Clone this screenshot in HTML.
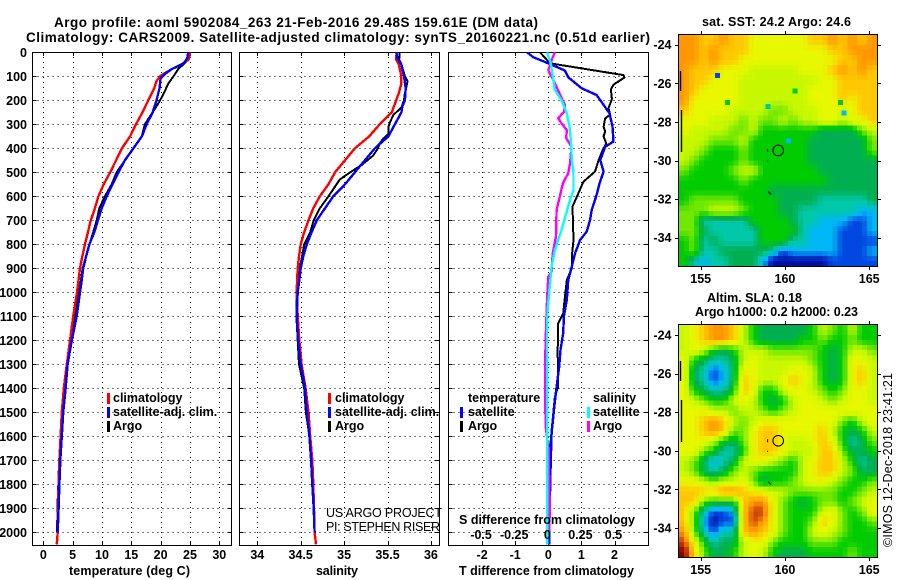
<!DOCTYPE html>
<html lang="en">
<head>
<meta charset="utf-8">
<title>Argo profile</title>
<style>
html,body{margin:0;padding:0;background:#fff;width:900px;height:580px;overflow:hidden}
svg{display:block}
text{font-family:"Liberation Sans",sans-serif;font-size:12.5px;font-weight:bold;fill:#000}
.thin{font-weight:normal}
</style>
</head>
<body>
<svg id="root" xmlns="http://www.w3.org/2000/svg" width="900" height="580" viewBox="0 0 900 580">
<defs>
<clipPath id="clip1"><rect x="32" y="52" width="200" height="493"/></clipPath>
<clipPath id="clip2"><rect x="239" y="52" width="201" height="493"/></clipPath>
<clipPath id="clip3"><rect x="448" y="52" width="201" height="493"/></clipPath>
</defs>
<g id="static-text">
<text x="54" y="27" style="font-size:13.5px" textLength="484">Argo profile: aoml 5902084_263 21-Feb-2016 29.48S 159.61E (DM data)</text>
<text x="26" y="42" style="font-size:13.5px" textLength="624">Climatology: CARS2009. Satellite-adjusted climatology: synTS_20160221.nc (0.51d earlier)</text>
<text x="69" y="575" textLength="121">temperature (deg C)</text>
<text x="316" y="575" textLength="42">salinity</text>
<text x="459" y="575" textLength="175">T difference from climatology</text>
<text x="459" y="524" textLength="176">S difference from climatology</text>
<text x="702" y="26" textLength="149">sat. SST: 24.2 Argo: 24.6</text>
<text x="707" y="302" textLength="95">Altim. SLA: 0.18</text>
<text x="695" y="316" textLength="163">Argo h1000: 0.2 h2000: 0.23</text>
<text class="thin" x="326" y="517" textLength="116">US ARGO PROJECT</text>
<text class="thin" x="326" y="531" textLength="114">PI: STEPHEN RISER</text>
<text class="thin" transform="translate(892 547) rotate(-90)" textLength="174">©IMOS 12-Dec-2018 23:41:21</text>
</g>
</svg>
<script>
// ---------- shared ticks ----------
const depthTicks = [0,100,200,300,400,500,600,700,800,900,1000,1100,1200,1300,1400,1500,1600,1700,1800,1900,2000];
const tempTicks = [0,5,10,15,20,25,30];
const salTicks = [34,34.5,35,35.5,36];
const tDiffTicks = [-2,-1,0,1,2];
const sDiffTicks = [-0.5,-0.25,0,0.25,0.5];
const lonTicks = [155,160,165];
const latTicks = [-24,-26,-28,-30,-32,-34];

// ---------- temperature panel ----------
const tempClimDepth = [0,30,50,70,90,100,120,150,200,250,300,350,400,450,500,550,600,650,700,750,800,850,900,950,1000,1100,1200,1300,1400,1500,1600,1700,1800,1900,2000,2050];
const tempClimValues = [25,24.8,23.6,21.9,20.5,19.9,19.3,18.9,17.9,16.9,15.8,14.8,13.4,12.4,11.4,10.3,9.4,8.8,8.1,7.6,7.1,6.65,6.25,6,5.75,5.1,4.55,4,3.5,3.15,2.95,2.75,2.6,2.5,2.45,2.3];
const tempSatDepth = [0,20,40,50,70,90,110,150,200,250,300,350,400,450,500,550,600,650,700,750,800,850,900,950,1000,1100,1200,1300,1400,1500,1600,1700,1800,1900,2000];
const tempSatValues = [24.7,24.6,24.15,23.6,21.9,20.75,20,19.8,19.3,18.65,17.6,16.8,15.35,13.9,12.8,11.8,10.8,9.95,9.3,8.7,7.85,7.3,6.8,6.55,6.25,5.7,4.85,4.15,3.8,3.4,3.15,2.9,2.75,2.6,2.45];
const tempArgoDepth = [0,30,50,70,100,130,160,200,225,250,300,350,400,450,500,550,600,650,700,750,800,900,1000,1100,1200,1300,1400,1500,1600,1700,1800,1900,2000];
const tempArgoValues = [24.85,24.7,23.9,23,22.2,21.3,20.75,19.9,19.3,18.65,17.3,16.8,15.35,13.9,12.5,11.65,10.5,9.55,9.1,8.5,7.85,6.7,6.1,5.45,4.7,4,3.7,3.2,3,2.7,2.55,2.4,2.35];

// ---------- salinity panel ----------
const salClimDepth = [0,30,50,100,130,170,200,250,300,350,400,450,500,550,600,650,700,750,800,850,900,1000,1100,1200,1300,1400,1500,1600,1700,1800,1900,2000,2050];
const salClimValues = [35.605,35.6,35.63,35.66,35.66,35.63,35.6,35.55,35.41,35.29,35.125,35.01,34.895,34.82,34.72,34.645,34.59,34.54,34.5,34.48,34.465,34.453,34.465,34.484,34.51,34.557,34.59,34.61,34.634,34.645,34.653,34.66,34.676];
const salSatDepth = [0,30,50,100,150,200,225,250,300,350,400,450,500,550,600,650,700,750,800,850,900,950,1000,1100,1200,1300,1400,1500,1600,1700,1800,1900,2000];
const salSatValues = [35.6,35.62,35.66,35.69,35.71,35.7,35.67,35.66,35.585,35.51,35.355,35.24,35.125,35.01,34.875,34.78,34.685,34.625,34.57,34.53,34.5,34.484,34.465,34.453,34.47,34.5,34.55,34.57,34.6,34.62,34.634,34.65,34.66];
const salArgoDepth = [0,30,50,100,120,140,170,200,230,260,290,310,340,360,380,400,430,470,500,530,600,650,700,750,800,900,1000,1100,1200,1300,1400,1500,1600,1700,1800,1900,2000];
const salArgoValues = [35.64,35.635,35.66,35.7,35.73,35.72,35.7,35.69,35.66,35.57,35.53,35.51,35.51,35.45,35.41,35.39,35.335,35.2,35.07,34.95,34.82,34.72,34.65,34.61,34.54,34.49,34.453,34.45,34.465,34.48,34.54,34.56,34.6,34.62,34.64,34.65,34.66];

// ---------- difference panel ----------
const dTempArgoDepth = [0,46,95,105,135,155,195,233,260,275,310,330,350,380,405,450,497,539,587,643,782,851,900,949,1046,1088,1129,1261,1310,1393,1435,1574,1657,1768,1976,2050];
const dTempArgoValues = [-0.25,0.05,2.27,2.3,1.97,1.89,1.92,1.82,1.87,1.72,1.67,1.72,1.67,1.75,1.65,1.52,1.41,1.06,0.91,0.73,0.76,0.71,0.71,0.56,0.48,0.45,0.3,0.28,0.3,0.3,0.2,0.1,0.05,0.05,0.03,0.03];
const dTempSatDepth = [0,21,43,76,104,150,178,219,254,310,372,393,449,497,546,594,657,699,747,782,837,893,949,1032,1100,1170,1240,1310,1393,1476,1587,1726,1976,2050];
const dTempSatValues = [-0.64,-0.45,-0.05,0.5,0.6,1.01,1.46,1.67,1.85,1.94,1.97,1.72,1.57,1.67,1.55,1.46,1.31,1.26,1.16,0.96,0.81,0.71,0.6,0.56,0.47,0.45,0.37,0.33,0.25,0.18,0.1,0.07,0.03,0.03];
const dSalSatDepth = [0,46,88,157,199,254,310,365,449,504,574,615,671,740,824,893,990,1074,1170,1500,2050];
const dSalSatValues = [-0.008,0.018,0.03,0.05,0.1,0.14,0.16,0.17,0.178,0.19,0.19,0.165,0.135,0.1,0.05,0.025,0.008,-0.005,-0.01,-0.008,-0.008];
const dSalArgoDepth = [0,32,74,88,129,178,219,247,275,296,324,358,393,462,504,546,594,657,768,837,914,935,1018,1074,1170,1310,1407,1560,1650,1700,1905,2000];
const dSalArgoValues = [0.05,0.025,0,0.012,0.05,0.09,0.125,0.12,0.075,0.1,0.14,0.135,0.175,0.165,0.15,0.11,0.09,0.063,0.058,0.033,0.025,0,-0.008,-0.012,-0.018,-0.025,-0.025,-0.02,0.003,0.003,0.012,0.005];

// ---------- map grids (colour level per coarse cell) ----------
const sstLevels = [
[10,10,9,9,10,9,9,8,8,8,8,8,8,9,9,10,9,10,9,10],
[10,10,9,10,9,9,9,8,8,8,8,8,8,8,8,9,9,10,10,10],
[10,10,9,10,9,9,8,8,8,8,8,8,8,8,8,8,9,9,10,10],
[10,9,9,9,8,8,8,7,7,7,7,7,8,8,8,9,10,9,10,9],
[10,9,9,8,8,8,7,7,7,7,7,7,7,7,8,8,9,9,9,9],
[10,9,8,8,8,8,7,7,7,7,7,7,7,8,8,8,9,9,9,9],
[10,8,8,8,8,8,7,7,7,7,7,7,7,8,8,8,9,8,9,9],
[9,8,8,8,8,7,7,7,7,6,6,7,7,7,8,8,7,8,9,9],
[8,8,8,7,7,7,6,7,6,6,7,6,7,7,8,8,7,8,8,9],
[8,7,7,7,7,6,6,7,5,5,5,5,5,5,4,4,4,4,6,7],
[7,7,7,6,6,6,7,5,5,5,5,5,5,4,4,4,4,4,4,6],
[7,7,6,5,5,5,6,5,5,5,5,5,5,4,4,4,4,4,4,6],
[7,6,5,5,5,5,6,5,5,5,5,5,5,4,4,4,4,4,4,4],
[6,5,5,5,5,6,7,7,5,5,5,5,5,5,4,4,4,4,4,4],
[5,5,5,5,5,5,6,5,5,5,5,5,5,5,5,4,4,4,4,4],
[5,5,5,5,5,5,5,5,5,4,4,4,4,4,4,4,4,4,4,4],
[5,6,6,6,6,6,5,5,5,5,4,4,4,4,3,3,3,3,3,4],
[6,6,6,7,7,7,6,5,5,5,4,4,3,3,3,3,3,3,2,2],
[6,6,3,3,3,3,3,5,5,5,5,4,3,3,2,2,2,1,1,2],
[6,6,4,3,3,3,3,3,5,5,5,5,3,2,2,2,1,1,1,2],
[5,6,3,4,3,3,3,3,5,5,5,3,3,2,2,2,1,1,1,1],
[5,6,3,3,4,4,4,4,4,3,1,2,2,2,2,2,1,1,1,2],
[5,3,2,3,3,4,4,4,2,0,0,0,0,0,0,1,1,1,1,1]
];
const slaLevels = [
[7,8,9,10,10,9,7,5,4,4,4,4,4,5,7,6,5,7,5,5],
[7,8,9,10,10,9,7,5,4,4,4,4,5,5,6,5,5,6,5,5],
[7,8,7,5,4,5,7,7,7,6,6,6,6,6,5,4,5,7,7,6],
[8,5,4,3,3,4,7,8,7,7,7,7,7,6,5,4,5,8,8,7],
[8,4,3,1,2,4,8,8,7,7,7,8,8,7,5,4,5,8,9,7],
[8,4,3,1,2,4,9,8,7,7,8,9,8,7,5,4,5,8,9,7],
[8,5,4,3,3,5,9,8,5,5,7,8,8,7,6,5,6,8,8,7],
[8,7,6,5,5,7,8,7,5,4,5,7,8,8,7,6,7,8,8,7],
[8,8,8,7,7,6,7,7,6,5,6,7,8,8,8,8,8,8,8,8],
[8,8,9,10,9,7,6,7,8,8,8,8,8,8,8,8,6,5,7,8],
[8,8,9,10,9,6,6,8,9,9,8,8,8,8,9,7,5,4,5,7],
[8,8,8,7,5,4,6,8,9,9,8,7,7,8,9,8,5,3,4,6],
[8,8,6,5,3,3,5,8,9,9,8,7,7,7,9,9,6,4,4,5],
[7,6,4,2,3,4,7,8,8,7,6,5,7,8,9,9,7,5,3,4],
[7,6,4,3,4,6,7,6,5,5,5,5,7,8,9,9,7,6,4,4],
[8,8,7,6,7,7,8,6,4,5,5,6,7,8,8,7,6,5,5,6],
[9,9,9,9,10,10,9,8,8,7,7,6,6,6,6,6,5,5,6,7],
[9,9,6,5,5,5,9,10,10,8,6,5,4,5,6,6,5,6,7,8],
[9,6,3,1,1,2,9,11,11,8,6,5,5,5,7,8,6,5,6,8],
[9,6,2,0,1,1,9,11,10,8,6,5,5,6,9,8,6,5,5,6],
[10,6,3,1,3,3,9,10,9,8,6,5,5,7,8,7,6,5,5,5],
[11,8,5,3,4,4,7,8,8,6,5,5,5,6,6,6,5,5,5,5],
[12,9,6,4,4,5,7,8,7,5,4,4,4,5,5,5,5,6,5,5]
];
const specklesLon = [156,163.3,163.5,159,156.6,160.6,160.2];
const specklesLat = [-25.6,-27,-27.55,-27.2,-27,-26.4,-29];
const specklesLevel = [1,5,2,3,5,5,2];
const paletteColors = ['#0010a0','#0048e0','#00b8f8','#00c8a8','#00b050','#00cc00','#70e800','#c8f800','#e8f800','#ffc800','#ff9800','#c84000','#880000'];

// ---------- axis functions ----------
const PANEL_TOP = 52.3;
function yD(depth){ return PANEL_TOP + depth*0.24; }
function xTemp(v){ return 43.3 + v*5.867; }
function xSal(v){ return 257.3 + (v-34)*86.8; }
function xTDiff(v){ return 548.3 + v*33.1; }
function xSDiff(v){ return 548.3 + v*132.4; }
function lonX(v){ return 700.7 + (v-155)*16.85; }
function latY1(v){ return 44.7 + (-24-v)*19.3; }
function latY2(v){ return 335 + (-24-v)*19.3; }

const NS = 'http://www.w3.org/2000/svg';
const root = document.getElementById('root');
function mk(tag, attrs, parent){
  const el = document.createElementNS(NS, tag);
  for (const k in attrs) el.setAttribute(k, attrs[k]);
  (parent || root).appendChild(el);
  return el;
}
function label(str, x, y, anchor, parent){
  const t = mk('text', {x:x, y:y, 'text-anchor':anchor}, parent);
  t.textContent = str;
  return t;
}
function hex2rgb(h){ return [parseInt(h.slice(1,3),16),parseInt(h.slice(3,5),16),parseInt(h.slice(5,7),16)]; }
function colorFor(level){
  const l = Math.max(0, Math.min(paletteColors.length-1, level));
  const i = Math.min(paletteColors.length-2, Math.floor(l)), f = l-i;
  const a = hex2rgb(paletteColors[i]), b = hex2rgb(paletteColors[i+1]);
  const c = a.map((v,n)=>Math.round(v+(b[n]-v)*f));
  return 'rgb('+c.join(',')+')';
}

// ---------- maps ----------
function drawMap(levels, x0, y0, x1, y1, latY, mapName, parentName){
  const g = mk('g', {'shape-rendering':'crispEdges'});
  
  
  const rows = levels.length, cols = levels[0].length;
  const nx = cols*2, ny = rows*2;
  const w = (x1-x0)/nx, h = (y1-y0)/ny;
  for (let j=0;j<ny;j++){
    for (let i=0;i<nx;i++){
      const u = Math.max(0,Math.min(cols-1,(i+0.5)/2-0.5));
      const v = Math.max(0,Math.min(rows-1,(j+0.5)/2-0.5));
      const iu = Math.min(cols-2,Math.floor(u)), iv = Math.min(rows-2,Math.floor(v));
      const fu = u-iu, fv = v-iv;
      const val = levels[iv][iu]*(1-fu)*(1-fv)+levels[iv][iu+1]*fu*(1-fv)+levels[iv+1][iu]*(1-fu)*fv+levels[iv+1][iu+1]*fu*fv;
      const r = mk('rect', {x:(x0+i*w).toFixed(2), y:(y0+j*h).toFixed(2), width:(w+0.6).toFixed(2), height:(h+0.6).toFixed(2), fill:colorFor(val)}, g);
      
      
    }
  }
  // coast and border
  const coast = mk('path', {d:'M680.5 '+(y0+36)+'v20M681.5 '+(y0+75)+'v42', stroke:'#000', 'stroke-width':1.4, fill:'none'});
  
  
  const frame = mk('rect', {x:x0-0.5, y:y0-0.5, width:x1-x0+1, height:y1-y0+1, fill:'none', stroke:'#000', 'stroke-width':1, 'shape-rendering':'crispEdges'});
  
  
  lonTicks.forEach(function(lon){
    const x = Math.round(lonX(lon))+0.5;
    const t = mk('path', {d:'M'+x+' '+(y0-4)+'v4M'+x+' '+y1+'v4', stroke:'#000', 'shape-rendering':'crispEdges'});
    
    
    const tl = label(String(lon), lonX(lon), y1+17, 'middle');
    
    
  });
  latTicks.forEach(function(lat){
    const y = Math.round(latY(lat))+0.5;
    const t = mk('path', {d:'M'+(x0-4)+' '+y+'h4M'+x1+' '+y+'h4', stroke:'#000', 'shape-rendering':'crispEdges'});
    
    
    const tl = label(String(lat), 671.5, latY(lat)+4.5, 'end');
    
    
  });
}
drawMap(sstLevels, 679, 35, 877, 266, latY1, 'sst-cell', 'sst-heatmap');
drawMap(slaLevels, 679, 325, 877, 557, latY2, 'sla-cell', 'sla-heatmap');
specklesLon.forEach(function(lon,i){
  const r = mk('rect', {x:lonX(lon)-2.5, y:latY1(specklesLat[i])-2.5, width:5, height:5, fill:colorFor(specklesLevel[i]), 'shape-rendering':'crispEdges'});
  
  
});
[[latY1,'sst'],[latY2,'sla']].forEach(function(m){
  const c = mk('circle', {cx:lonX(159.6), cy:m[0](-29.48), r:5.3, fill:'none', stroke:'#000', 'stroke-width':1});
  
  
  const d = mk('path', {d:'M'+(lonX(159)-0.5)+' '+(m[0](-29.4))+'v3M'+(lonX(159)-0.5)+' '+(m[0](-30))+'v1M'+(lonX(159))+' '+(m[0](-31.6))+'l3 3', stroke:'#000', 'stroke-width':1, fill:'none'});
  
  
});

// ---------- profile panels ----------
function drawPanel(x0, x1, xTicks, xFn){
  const w = x1-x0;
  depthTicks.forEach(function(dep){
    if (dep===0) return;
    const y = Math.round(yD(dep))+0.5;
    const g = mk('line', {x1:x0, x2:x1, y1:y, y2:y, stroke:'#000', 'stroke-width':1, 'stroke-dasharray':'1 4', 'shape-rendering':'crispEdges'});
    
    
    const t = mk('path', {d:'M'+x0+' '+y+'h4M'+x1+' '+y+'h-4', stroke:'#000', 'shape-rendering':'crispEdges'});
    
    
  });
  xTicks.forEach(function(v){
    const x = Math.round(xFn(v))+0.5;
    const g = mk('line', {x1:x, x2:x, y1:52, y2:545, stroke:'#000', 'stroke-width':1, 'stroke-dasharray':'1 4', 'shape-rendering':'crispEdges'});
    
    
    const t = mk('path', {d:'M'+x+' 52v4M'+x+' 545v-4', stroke:'#000', 'shape-rendering':'crispEdges'});
    
    
    const tl = label(String(v), xFn(v), 559, 'middle');
    
    
  });
  const b = mk('rect', {x:x0, y:52.5, width:w, height:493, fill:'none', stroke:'#000', 'stroke-width':1.2, 'shape-rendering':'crispEdges'});
  
  
}
function drawSeries(depths, values, xFn, color, clip, name, width){
  const pts = depths.map(function(d,i){ return xFn(values[i]).toFixed(1)+','+yD(d).toFixed(1); }).join(' ');
  const p = mk('polyline', {points:pts, fill:'none', stroke:color, 'stroke-width':width||2, 'clip-path':'url(#'+clip+')', 'shape-rendering':'crispEdges', 'stroke-linejoin':'round'});
  
  
}
drawPanel(32.5, 231.5, tempTicks, xTemp);
drawPanel(239.5, 439.5, salTicks, xSal);
drawPanel(448.5, 648.5, tDiffTicks, xTDiff);

depthTicks.forEach(function(dep){
  const t = label(String(dep), 27, yD(dep)+4.5, 'end');
  
  
});

drawSeries(tempArgoDepth, tempArgoValues, xTemp, '#000', 'clip1', 'temperature-argo-line', 2);
drawSeries(tempClimDepth, tempClimValues, xTemp, '#f00', 'clip1', 'temperature-climatology-line', 2.4);
drawSeries(tempSatDepth, tempSatValues, xTemp, '#00f', 'clip1', 'temperature-satellite-line', 2.4);
drawSeries(salArgoDepth, salArgoValues, xSal, '#000', 'clip2', 'salinity-argo-line', 2);
drawSeries(salClimDepth, salClimValues, xSal, '#f00', 'clip2', 'salinity-climatology-line', 2.4);
drawSeries(salSatDepth, salSatValues, xSal, '#00f', 'clip2', 'salinity-satellite-line', 2.4);
drawSeries(dTempArgoDepth, dTempArgoValues, xTDiff, '#000', 'clip3', 'dt-argo-line', 2);
drawSeries(dTempSatDepth, dTempSatValues, xTDiff, '#00f', 'clip3', 'dt-satellite-line', 2.4);
drawSeries(dSalArgoDepth, dSalArgoValues, xSDiff, '#f0f', 'clip3', 'ds-argo-line', 2.4);
drawSeries(dSalSatDepth, dSalSatValues, xSDiff, '#0ff', 'clip3', 'ds-satellite-line', 2.4);

// S-difference tick labels sit above the curves
sDiffTicks.forEach(function(v){
  const t = label(String(v), xSDiff(v)-1, 539, 'middle');
  
  
});

// ---------- legends ----------
const legendLabels = ['climatology','satellite-adj. clim.','Argo'];
const legendColors = ['#f00','#00f','#000'];
const legendBaselines = [402,416,430];
function legendEntry(markX, textX, baseline, color, str){
  const m = mk('rect', {x:markX, y:baseline-9, width:3, height:11, fill:color, 'shape-rendering':'crispEdges'});
  
  
  const t = label(str, textX, baseline, 'start');
  
  
}
legendLabels.forEach(function(s,i){
  legendEntry(107, 113, legendBaselines[i], legendColors[i], s);
  legendEntry(328, 335, legendBaselines[i], legendColors[i], s);
});
const h1 = label('temperature', 468, 402, 'start');


const h2 = label('salinity', 593, 402, 'start');


legendEntry(460, 468, 416, '#00f', 'satellite');
legendEntry(460, 468, 430, '#000', 'Argo');
legendEntry(587, 593, 416, '#0ff', 'satellite');
legendEntry(587, 593, 430, '#f0f', 'Argo');

// static titles paint on top of the curves and maps
root.appendChild(document.getElementById('static-text'));
</script>
</body>
</html>
